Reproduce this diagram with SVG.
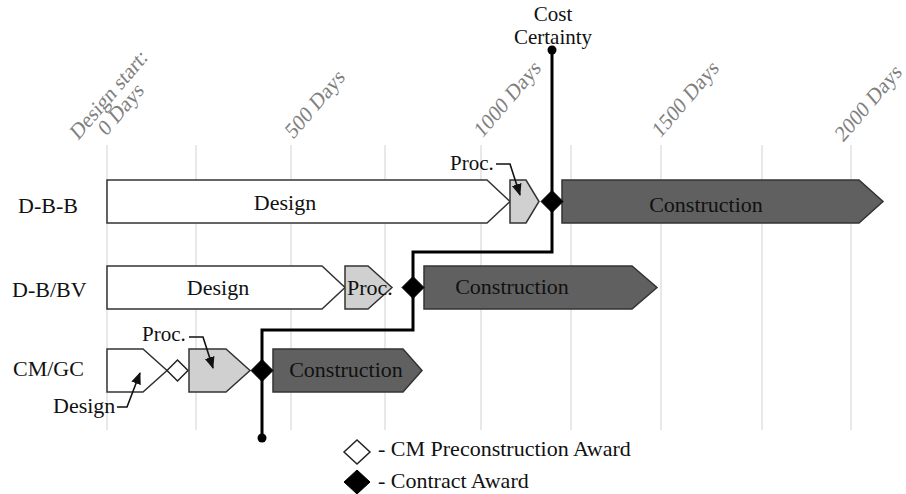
<svg xmlns="http://www.w3.org/2000/svg" width="906" height="494" viewBox="0 0 906 494" font-family="'Liberation Serif','Times New Roman',serif">
<style>
text{font-family:"Liberation Serif","Times New Roman",serif;fill:#111}
.ax{font-size:20.5px;fill:#808080}
.lbl{font-size:22px}
.bar{font-size:22px}
.grid{stroke:#d9d9d9;stroke-width:1.2}
.des{fill:#fff;stroke:#333;stroke-width:1.5}
.proc{fill:#d0d0d0;stroke:#333;stroke-width:1.5}
.con{fill:#606060;stroke:#333;stroke-width:1.5}
.award{fill:#000;stroke:#000;stroke-width:1}
.pre{fill:#fff;stroke:#222;stroke-width:1.5}
.lead{fill:none;stroke:#111;stroke-width:1.6}
.cost{fill:none;stroke:#000;stroke-width:3}
</style>
<defs>
<marker id="ah" markerUnits="userSpaceOnUse" markerWidth="12" markerHeight="12" viewBox="0 0 12 12" refX="11" refY="6" orient="auto">
<path d="M0,1 L12,6 L0,11 Z" fill="#111"/>
</marker>
</defs>
<g id="grid">
<line class="grid" x1="107" y1="145" x2="107" y2="430"/>
<line class="grid" x1="196" y1="145" x2="196" y2="430"/>
<line class="grid" x1="291" y1="145" x2="291" y2="430"/>
<line class="grid" x1="385" y1="145" x2="385" y2="430"/>
<line class="grid" x1="481" y1="145" x2="481" y2="430"/>
<line class="grid" x1="571" y1="145" x2="571" y2="430"/>
<line class="grid" x1="661" y1="145" x2="661" y2="430"/>
<line class="grid" x1="762" y1="145" x2="762" y2="430"/>
<line class="grid" x1="851" y1="145" x2="851" y2="430"/>
</g>
<g id="axis-labels">
<text class="ax" transform="translate(78,141) scale(0.96,1.12) rotate(-45)">Design start:</text>
<text class="ax" transform="translate(106,137) scale(0.96,1.12) rotate(-45)">0 Days</text>
<text class="ax" transform="translate(293,140) scale(0.96,1.12) rotate(-45)">500 Days</text>
<text class="ax" transform="translate(482,139) scale(0.96,1.12) rotate(-45)">1000 Days</text>
<text class="ax" transform="translate(660,139) scale(0.96,1.12) rotate(-45)">1500 Days</text>
<text class="ax" transform="translate(843,143) scale(0.96,1.12) rotate(-45)">2000 Days</text>
</g>
<g id="row-labels">
<text class="lbl" x="18" y="213">D-B-B</text>
<text class="lbl" x="12" y="297">D-B/BV</text>
<text class="lbl" x="13" y="376">CM/GC</text>
</g>
<g id="dbb-design"><path class="des" d="M107,180 H487 L510,201.5 L487,223 H107 Z"/><text class="bar" x="285" y="210" text-anchor="middle">Design</text></g>
<g id="dbb-proc"><path class="proc" d="M510,180 H526 L539,201.5 L526,223 H510 Z"/></g>
<g id="dbb-construction"><path class="con" d="M562,180 H859 L883,201.5 L859,223 H562 Z"/><text class="bar" x="706" y="212" text-anchor="middle">Construction</text></g>
<g id="dbbv-design"><path class="des" d="M107,266 H322 L345,287.5 L322,309 H107 Z"/><text class="bar" x="218" y="295" text-anchor="middle">Design</text></g>
<g id="dbbv-proc"><path class="proc" d="M345,266 H368 L392,287.5 L368,309 H345 Z"/><text class="bar" x="347" y="295">Proc.</text></g>
<g id="dbbv-construction"><path class="con" d="M424,266 H632 L657,287.5 L632,309 H424 Z"/><text class="bar" x="512" y="294" text-anchor="middle">Construction</text></g>
<g id="cmgc-design"><path class="des" d="M107,349 H143 L167,370.5 L143,392 H107 Z"/></g>
<g id="cmgc-precon"><path class="pre" d="M167,370.5 L177.5,360 L188,370.5 L177.5,381 Z"/></g>
<g id="cmgc-proc"><path class="proc" d="M189,349 H226 L250,370.5 L226,392 H189 Z"/></g>
<g id="cmgc-construction"><path class="con" d="M273,349 H403 L422,370.5 L403,392 H273 Z"/><text class="bar" x="346" y="377" text-anchor="middle">Construction</text></g>
<g id="connectors">
<path class="cost" d="M552,50 V252 H413 V330 H262 V438"/>
<circle cx="552" cy="50" r="4.5" fill="#000"/>
<circle cx="262" cy="438" r="4.5" fill="#000"/>
<path class="lead" d="M496,164 H510 L520,195" marker-end="url(#ah)"/>
<path class="lead" d="M189,337 H203 L213,368" marker-end="url(#ah)"/>
<path class="lead" d="M117,407 H127 L140,373" marker-end="url(#ah)"/>
</g>
<g id="awards">
<path class="award" d="M541,201.5 L552,190.5 L563,201.5 L552,212.5 Z"/>
<path class="award" d="M402,287.5 L413,276.5 L424,287.5 L413,298.5 Z"/>
<path class="award" d="M251,370.5 L262,359.5 L273,370.5 L262,381.5 Z"/>
</g>
<g id="annotations">
<text class="bar" x="553" y="20.5" text-anchor="middle" style="font-size:21px">Cost</text>
<text class="bar" x="553" y="43.5" text-anchor="middle" style="font-size:21px">Certainty</text>
<text class="bar" x="450" y="170" style="font-size:21px">Proc.</text>
<text class="bar" x="142" y="341" style="font-size:21px">Proc.</text>
<text class="bar" x="53" y="413">Design</text>
</g>
<g id="legend">
<path class="pre" d="M344,452 L357,440 L370,452 L357,464 Z"/>
<text class="bar" x="378" y="456">- CM Preconstruction Award</text>
<path class="award" d="M344,482 L357,470 L370,482 L357,494 Z"/>
<text class="bar" x="378" y="488">- Contract Award</text>
</g>
</svg>
